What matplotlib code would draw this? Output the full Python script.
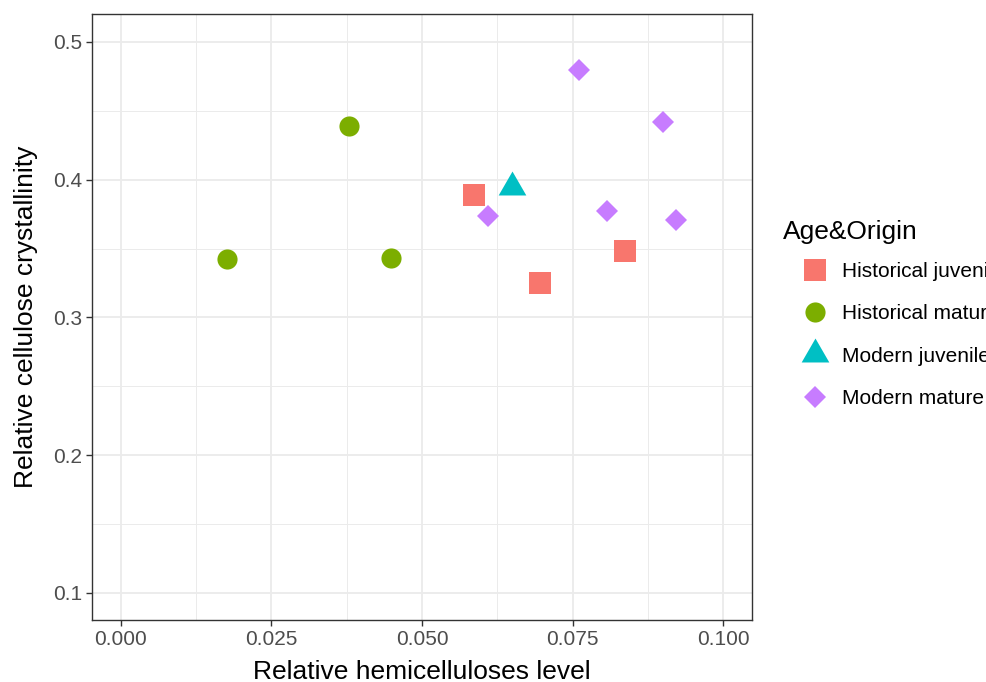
import matplotlib.pyplot as plt
from matplotlib.lines import Line2D
from matplotlib.path import Path
from matplotlib.ticker import MultipleLocator

plt.rcParams['font.family'] = ['Liberation Sans', 'DejaVu Sans']

# hemicelluloses level (x) and cellulose crystallinity (y) per group
groups = ["Historical juvenile", "Historical mature", "Modern juvenile", "Modern mature"]

hist_juv_x = [0.0586, 0.0696, 0.0837]
hist_juv_y = [0.389, 0.325, 0.348]

hist_mat_x = [0.0176, 0.0379, 0.0449]
hist_mat_y = [0.3425, 0.439, 0.343]

mod_juv_x = [0.0650]
mod_juv_y = [0.395]

mod_mat_x = [0.0761, 0.0900, 0.0610, 0.0807, 0.0922]
mod_mat_y = [0.480, 0.442, 0.374, 0.377, 0.371]

colors = ["#F8766D", "#7CAE00", "#00BFC4", "#C77CFF"]

# equilateral triangle with its centroid on the data point (like R pch 17)
tri = Path([(0, 1), (-0.866, -0.5), (0.866, -0.5), (0, 1)],
           [Path.MOVETO, Path.LINETO, Path.LINETO, Path.CLOSEPOLY])
markers = ["s", "o", tri, "D"]
sizes = [15.5, 14.5, 23, 11.2]

series = [(hist_juv_x, hist_juv_y), (hist_mat_x, hist_mat_y),
          (mod_juv_x, mod_juv_y), (mod_mat_x, mod_mat_y)]

W, H = 986, 682
fig = plt.figure(figsize=(W / 100, H / 100), dpi=100)
ax = fig.add_axes([92 / W, 1 - 620 / H, 660 / W, 606 / H])

for (xs, ys), c, m, s in zip(series, colors, markers, sizes):
    ax.plot(xs, ys, linestyle="none", marker=m, markersize=s,
            color=c, markeredgewidth=0, zorder=3)

ax.set_xlim(-0.0048, 0.1048)
ax.set_ylim(0.0804, 0.5203)
ax.xaxis.set_major_locator(MultipleLocator(0.025))
ax.xaxis.set_minor_locator(MultipleLocator(0.0125))
ax.yaxis.set_major_locator(MultipleLocator(0.1))
ax.yaxis.set_minor_locator(MultipleLocator(0.05))
ax.xaxis.set_major_formatter(lambda v, p: f"{v:.3f}")
ax.yaxis.set_major_formatter(lambda v, p: f"{v:.1f}")

ax.grid(which="major", color="#EBEBEB", linewidth=1.3)
ax.grid(which="minor", color="#EBEBEB", linewidth=0.7)
ax.set_axisbelow(True)
for sp in ax.spines.values():
    sp.set_color("#333333")
    sp.set_linewidth(1.0)

ax.tick_params(which="major", length=4, width=1.0, color="#333333",
               labelsize=15, labelcolor="#4D4D4D", pad=3)
ax.tick_params(which="minor", length=0)

ax.set_xlabel("Relative hemicelluloses level", fontsize=19, labelpad=8)
ax.set_ylabel("Relative cellulose crystallinity", fontsize=19, labelpad=11)

# legend: keys and labels, title placed on its own
handles = [Line2D([], [], linestyle="none", marker=m, markersize=s,
                  color=c, markeredgewidth=0)
           for m, s, c in zip(markers, sizes, colors)]
fig.legend(handles, groups, loc="center left",
           bbox_to_anchor=(802.5 / W, 1 - 335 / H), frameon=False,
           fontsize=15, handlelength=1.2, handletextpad=0.7,
           labelspacing=1.12, borderpad=0, borderaxespad=0)
fig.text(783 / W, 1 - 232 / H, "Age&Origin", fontsize=19,
         ha="left", va="center")

fig.savefig("out.png", dpi=100)
